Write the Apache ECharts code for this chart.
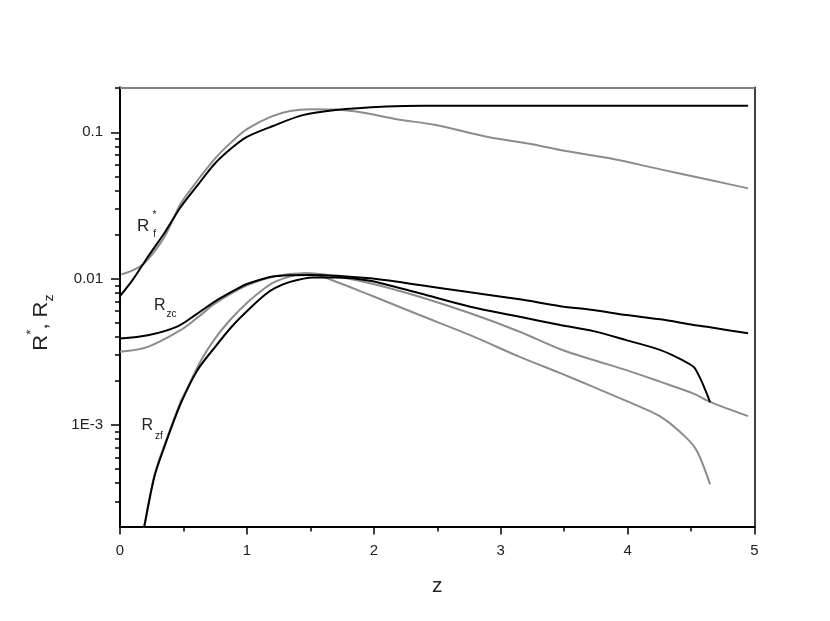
<!DOCTYPE html>
<html>
<head>
<meta charset="utf-8">
<script src="https://cdn.jsdelivr.net/npm/echarts@6/dist/echarts.min.js"></script>
<style>html,body{margin:0;padding:0;background:#fff}#c{width:830px;height:621px}</style>
</head>
<body>
<div id="c"></div>
<script>
// ---- data (z, value) ----
var rfBlack = [[0,0.0076],[0.1,0.0098],[0.22,0.0141],[0.35,0.0205],[0.48,0.031],[0.62,0.0445],[0.75,0.0614],[0.88,0.078],[1.0,0.093],[1.2,0.110],[1.44,0.131],[1.7,0.142],[2.1,0.150],[2.4,0.152],[3.0,0.152],[4.0,0.152],[4.95,0.152]];
var rfGray = [[0.01,0.0107],[0.1,0.0114],[0.19,0.0127],[0.35,0.0193],[0.48,0.0327],[0.62,0.048],[0.75,0.0664],[0.88,0.086],[1.0,0.105],[1.19,0.128],[1.34,0.140],[1.5,0.144],[1.7,0.143],[1.92,0.136],[2.18,0.123],[2.49,0.112],[2.89,0.0933],[3.28,0.0818],[3.47,0.0756],[3.86,0.0664],[4.26,0.0558],[4.65,0.0472],[4.95,0.0414]];
var rzcBlack = [[0,0.0039],[0.22,0.0041],[0.45,0.0047],[0.6,0.0057],[0.75,0.0070],[0.9,0.0083],[1.0,0.0092],[1.22,0.0104],[1.5,0.0106],[1.97,0.01005],[2.36,0.00904],[2.76,0.00806],[3.15,0.00722],[3.47,0.00648],[3.73,0.0061],[3.99,0.00564],[4.26,0.00527],[4.52,0.00482],[4.65,0.00465],[4.95,0.00423]];
var rzcGray = [[0,0.00316],[0.22,0.00342],[0.48,0.00446],[0.62,0.0055],[0.75,0.00678],[1.0,0.0090],[1.22,0.0104],[1.45,0.0109],[1.6,0.0107],[1.97,0.0093],[2.36,0.00752],[2.76,0.0058],[3.15,0.00434],[3.47,0.00329],[3.73,0.00278],[3.99,0.00237],[4.26,0.00197],[4.52,0.00164],[4.65,0.00144],[4.95,0.00115]];
var rzfBlack = [[0.17,0.00016],[0.19,0.0002],[0.27,0.00044],[0.35,0.00071],[0.48,0.00141],[0.61,0.00237],[0.75,0.00342],[0.88,0.00469],[1.01,0.0061],[1.14,0.00772],[1.22,0.0086],[1.34,0.0095],[1.52,0.0102],[1.7,0.0102],[1.97,0.00968],[2.36,0.00794],[2.76,0.00643],[3.15,0.00549],[3.47,0.00482],[3.73,0.00438],[3.99,0.0038],[4.26,0.00325],[4.44,0.00275],[4.53,0.00244],[4.65,0.00143]];
var rzfGray = [[0.17,0.00016],[0.19,0.0002],[0.27,0.00045],[0.35,0.00073],[0.48,0.00146],[0.51,0.00164],[0.64,0.00278],[0.75,0.00391],[0.88,0.00536],[1.01,0.00695],[1.14,0.00859],[1.22,0.0095],[1.35,0.0104],[1.47,0.0109],[1.57,0.0105],[1.97,0.00773],[2.36,0.00564],[2.76,0.00411],[3.15,0.00292],[3.47,0.00226],[3.73,0.00182],[3.99,0.00146],[4.26,0.00114],[4.47,0.000807],[4.55,0.000656],[4.65,0.000393]];

// ---- axis ticks ----
var xTickLabels = ['0','1','2','3','4','5'];
var yTickValues = [0.001, 0.01, 0.1];
var yTickLabels = ['1E-3', '0.01', '0.1'];
var yMinorTicks = [0.0003,0.0004,0.0005,0.0006,0.0007,0.0008,0.0009,
                   0.002,0.003,0.004,0.005,0.006,0.007,0.008,0.009,
                   0.02,0.03,0.04,0.05,0.06,0.07,0.08,0.09,0.2];

var FONT = 'Arial, "Liberation Sans", sans-serif';
var TXT = '#222';
var GRAY = '#8c8c8c';

var chart = echarts.init(document.getElementById('c'));
function line(data, color) {
  return { type:'line', data:data, showSymbol:false, smooth:0.3,
    lineStyle:{color:color, width:2}, itemStyle:{color:color}, clip:true, silent:true };
}
chart.setOption({
  animation:false,
  backgroundColor:'#fff',
  grid:{left:120, right:75.5, top:87.3, bottom:94.5},
  xAxis:[{
    type:'value', min:0, max:5, interval:1, position:'bottom',
    axisLine:{lineStyle:{color:'#000', width:2}},
    axisTick:{show:true, length:8, lineStyle:{color:'#000', width:1.5}},
    minorTick:{show:true, splitNumber:2, length:5, lineStyle:{color:'#000', width:1.5}},
    splitLine:{show:false},
    axisLabel:{margin:17, fontSize:15, color:TXT, fontFamily:FONT,
      formatter:function(v){ return xTickLabels[Math.round(v)]; }},
    name:'z', nameLocation:'middle', nameGap:49,
    nameTextStyle:{fontSize:21, color:TXT, fontFamily:FONT}
  },{
    type:'value', min:0, max:5, position:'top',
    axisLine:{lineStyle:{color:'#808080', width:2}},
    axisTick:{show:false}, axisLabel:{show:false}, splitLine:{show:false}
  }],
  yAxis:[{
    type:'log', logBase:10, min:0.0002025, max:0.203, position:'left',
    axisLine:{show:true, lineStyle:{color:'#000', width:2}},
    axisTick:{show:true, length:9, customValues:yTickValues, lineStyle:{color:'#000', width:1.5}},
    axisLabel:{margin:17, fontSize:15, color:TXT, fontFamily:FONT, customValues:yTickValues,
      formatter:function(v){
        for (var i=0;i<yTickValues.length;i++){ if (Math.abs(v/yTickValues[i]-1)<1e-6) return yTickLabels[i]; }
        return '';
      }},
    splitLine:{show:false}
  },{
    type:'log', logBase:10, min:0.0002025, max:0.203, position:'left',
    axisLine:{show:false},
    axisTick:{show:true, length:5, customValues:yMinorTicks, lineStyle:{color:'#000', width:1.5}},
    axisLabel:{show:false}, splitLine:{show:false}
  },{
    type:'log', logBase:10, min:0.0002025, max:0.203, position:'right',
    axisLine:{show:true, lineStyle:{color:'#000', width:1.5}},
    axisTick:{show:false}, axisLabel:{show:false}, splitLine:{show:false}
  }],
  series:[
    line(rfGray, GRAY), line(rzcGray, GRAY), line(rzfGray, GRAY),
    line(rfBlack, '#000'), line(rzcBlack, '#000'), line(rzfBlack, '#000')
  ],
  graphic:[
    { type:'text', x:41, y:322.5, rotation:Math.PI/2, scaleX:1.1, scaleY:1, silent:true,
      style:{ text:'{r|R}{sup|*}{r|, R}{sub|z}', align:'center', verticalAlign:'middle',
        rich:{ r:{fontSize:20, lineHeight:30, fontFamily:FONT, fill:TXT, color:TXT},
               sup:{fontSize:12, lineHeight:12, verticalAlign:'top', fontFamily:FONT, fill:TXT, color:TXT},
               sub:{fontSize:13, lineHeight:13, verticalAlign:'bottom', fontFamily:FONT, fill:TXT, color:TXT} } } },
    { type:'text', x:137, y:226, silent:true,
      style:{ text:'{r|R}{sub|f}', align:'left', verticalAlign:'middle',
        rich:{ r:{fontSize:17, lineHeight:26, fontFamily:FONT, fill:TXT, color:TXT},
               sub:{fontSize:10, lineHeight:10, verticalAlign:'bottom', padding:[0,0,0,4], fontFamily:FONT, fill:TXT, color:TXT} } } },
    { type:'text', x:154.5, y:215, silent:true,
      style:{ text:'*', align:'center', verticalAlign:'middle', fontSize:10, fontFamily:FONT, fill:TXT } },
    { type:'text', x:154, y:305.5, silent:true,
      style:{ text:'{r|R}{sub|zc}', align:'left', verticalAlign:'middle',
        rich:{ r:{fontSize:16, lineHeight:28, fontFamily:FONT, fill:TXT, color:TXT},
               sub:{fontSize:10, lineHeight:10, verticalAlign:'bottom', padding:[0,0,0,1], fontFamily:FONT, fill:TXT, color:TXT} } } },
    { type:'text', x:141.5, y:426, silent:true,
      style:{ text:'{r|R}{sub|zf}', align:'left', verticalAlign:'middle',
        rich:{ r:{fontSize:16, lineHeight:30, fontFamily:FONT, fill:TXT, color:TXT},
               sub:{fontSize:10, lineHeight:10, verticalAlign:'bottom', padding:[0,0,0,2], fontFamily:FONT, fill:TXT, color:TXT} } } }
  ]
});
</script>
</body>
</html>
